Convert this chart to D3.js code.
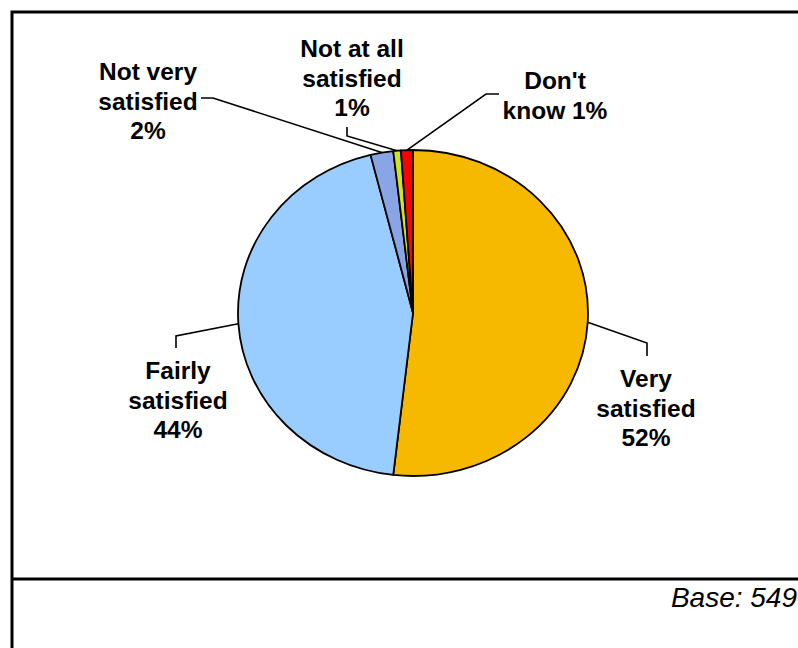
<!DOCTYPE html>
<html>
<head>
<meta charset="utf-8">
<script src="https://cdn.jsdelivr.net/npm/d3@7"></script>
<style>
  html, body { margin: 0; padding: 0; background: #fff; }
  svg { display: block; }
</style>
</head>
<body>
<svg id="chart" width="798" height="648"></svg>
<script>
// ---- data ----
const categories = ["Very satisfied", "Fairly satisfied", "Not very satisfied", "Not at all satisfied", "Don't know"];
const sliceValues = [51.8, 44.3, 2.1, 0.7, 1.1];
const labelLines = [
  ["Very", "satisfied"],
  ["Fairly", "satisfied"],
  ["Not very", "satisfied"],
  ["Not at all", "satisfied"],
  ["Don't", "know"]
];
const baseText = "Base: 549";

// ---- styles / layout ----
const colors = ["#F7B900", "#99CCFF", "#8AA5E6", "#CCE51E", "#FF0000"];
const cx = 413, cy = 313, rx = 175, ry = 163;
// label anchor (center x, first baseline y), leader elbow and end points
const labelLayout = [
  {x: 646, y: 387, elbow: [647, 343], end: [647, 356]},
  {x: 178, y: 379, elbow: [176, 336], end: [176, 348]},
  {x: 148, y: 80,  elbow: [213, 98],  end: [201, 98]},
  {x: 352, y: 57,  elbow: [347, 136], end: [347, 127]},
  {x: 555, y: 89,  elbow: [486, 94],  end: [499, 94]}
];
const lineH = 29.5;

const svg = d3.select("#chart");

// frame
svg.append("rect").attr("x", 12).attr("y", 12).attr("width", 800).attr("height", 650)
  .attr("fill", "none").attr("stroke", "#000").attr("stroke-width", 3);
svg.append("line").attr("x1", 12).attr("x2", 798).attr("y1", 579).attr("y2", 579)
  .attr("stroke", "#000").attr("stroke-width", 3);

const data = categories.map((c, i) => ({cat: c, value: sliceValues[i], color: colors[i], lines: labelLines[i], lay: labelLayout[i]}));

const pie = d3.pie().value(d => d.value).sort(null);
const arcs = pie(data);
const arc = d3.arc().innerRadius(0).outerRadius(rx);

const g = svg.append("g").attr("transform", `translate(${cx},${cy}) scale(1,${ry / rx})`);
g.selectAll("path").data(arcs).join("path")
  .attr("d", arc)
  .attr("fill", d => d.data.color)
  .attr("stroke", "#000")
  .attr("stroke-width", 1.8)
  .attr("vector-effect", "non-scaling-stroke")
  .attr("stroke-linejoin", "round");

// leader lines
arcs.forEach(a => {
  const mid = (a.startAngle + a.endAngle) / 2;
  const px = cx + rx * Math.sin(mid);
  const py = cy - ry * Math.cos(mid);
  const L = a.data.lay;
  svg.append("polyline")
    .attr("points", [[px, py], L.elbow, L.end].map(p => p.join(",")).join(" "))
    .attr("fill", "none").attr("stroke", "#000").attr("stroke-width", 1.6);
});

// labels
arcs.forEach(a => {
  const L = a.data.lay;
  const pct = Math.round(a.data.value) + "%";
  let lines = a.data.lines.slice();
  if (a.data.cat === "Don't know") lines = ["Don't", "know " + pct];
  else lines.push(pct);
  const t = svg.append("text")
    .attr("text-anchor", "middle")
    .attr("font-family", "'Liberation Sans', Arial, sans-serif")
    .attr("font-weight", "bold")
    .attr("font-size", 24.5)
    .attr("fill", "#000");
  lines.forEach((ln, i) => {
    t.append("tspan").attr("x", L.x).attr("y", L.y + i * lineH).text(ln);
  });
});

// base note
svg.append("text")
  .attr("x", 797).attr("y", 607)
  .attr("text-anchor", "end")
  .attr("font-family", "'Liberation Sans', Arial, sans-serif")
  .attr("font-style", "italic")
  .attr("font-size", 28)
  .attr("fill", "#000")
  .text(baseText);
</script>
</body>
</html>
